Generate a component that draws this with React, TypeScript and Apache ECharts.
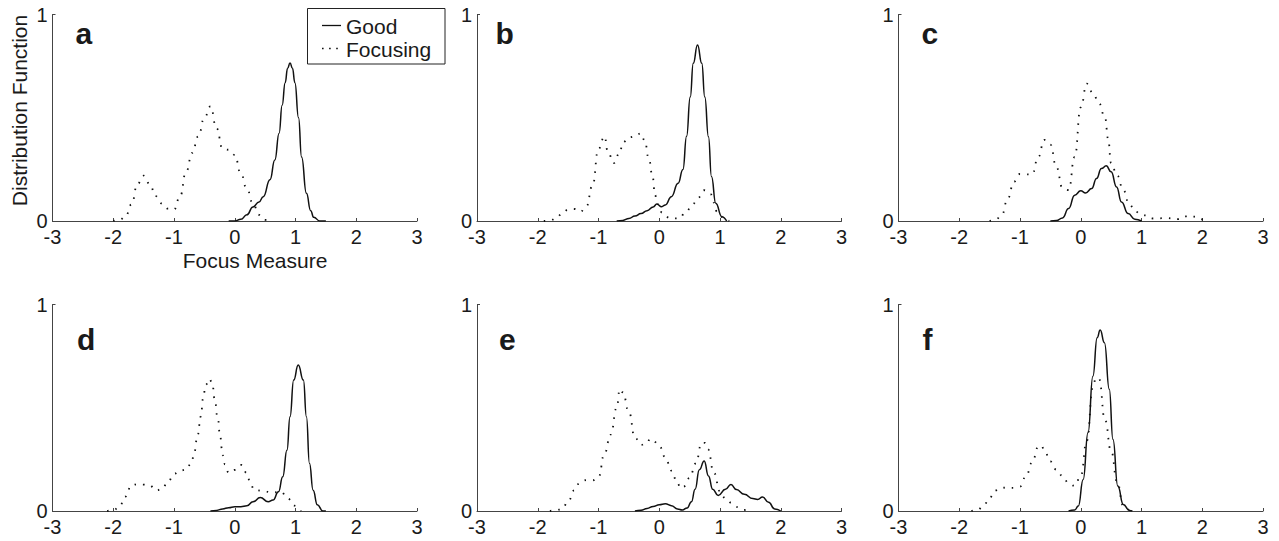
import React, { useEffect, useRef } from "react";
import * as echarts from "echarts";

const seriesNames = ["Good", "Focusing"];
const panelLetters = ["a", "b", "c", "d", "e", "f"];
const yAxisTitle = "Distribution Function";
const xAxisTitle = "Focus Measure";

const goodA: number[][] = [
  [-0.1, 0], [0, 0], [0.1, 0.008], [0.2, 0.03], [0.3, 0.068], [0.4, 0.092], [0.47, 0.118],
  [0.58, 0.2], [0.66, 0.295], [0.73, 0.425], [0.78, 0.56], [0.83, 0.67], [0.87, 0.74],
  [0.91, 0.765], [0.95, 0.74], [0.99, 0.67], [1.05, 0.5], [1.1, 0.31], [1.18, 0.134],
  [1.25, 0.05], [1.3, 0.018], [1.4, 0], [1.5, 0],
];
const focusA: number[][] = [
  [-2.0, 0], [-1.9, 0.005], [-1.8, 0.02], [-1.7, 0.08], [-1.6, 0.18], [-1.5, 0.22],
  [-1.4, 0.18], [-1.3, 0.12], [-1.2, 0.085], [-1.1, 0.06], [-1.0, 0.055], [-0.9, 0.12],
  [-0.8, 0.24], [-0.7, 0.33], [-0.6, 0.41], [-0.5, 0.5], [-0.4, 0.555], [-0.3, 0.45],
  [-0.2, 0.35], [-0.1, 0.345], [0.0, 0.32], [0.1, 0.23], [0.2, 0.155], [0.3, 0.085],
  [0.4, 0.03], [0.5, 0.005], [0.6, 0],
];
const goodB: number[][] = [
  [-0.7, 0], [-0.6, 0.003], [-0.5, 0.012], [-0.4, 0.024], [-0.3, 0.036], [-0.2, 0.05],
  [-0.1, 0.068], [-0.04, 0.082], [0.04, 0.069], [0.1, 0.078], [0.2, 0.118], [0.31, 0.183],
  [0.39, 0.25], [0.45, 0.41], [0.51, 0.6], [0.56, 0.764], [0.63, 0.852], [0.7, 0.764],
  [0.75, 0.6], [0.81, 0.408], [0.86, 0.215], [0.93, 0.086], [1.03, 0.021], [1.11, 0],
];
const focusB: number[][] = [
  [-1.9, 0], [-1.8, 0.002], [-1.7, 0.012], [-1.6, 0.035], [-1.5, 0.055], [-1.4, 0.058],
  [-1.3, 0.045], [-1.2, 0.07], [-1.1, 0.17], [-1.0, 0.35], [-0.9, 0.41], [-0.85, 0.34],
  [-0.75, 0.28], [-0.65, 0.33], [-0.6, 0.38], [-0.5, 0.405], [-0.4, 0.41], [-0.3, 0.425],
  [-0.24, 0.39], [-0.17, 0.3], [-0.11, 0.215], [-0.07, 0.126], [-0.03, 0.082], [0.05, 0.04],
  [0.18, 0.013], [0.33, 0.013], [0.44, 0.045], [0.55, 0.081], [0.64, 0.113], [0.74, 0.149],
  [0.85, 0.129], [0.9, 0.089], [0.95, 0.045], [1.08, 0.008], [1.15, 0],
];
const goodC: number[][] = [
  [-0.5, 0], [-0.4, 0.002], [-0.3, 0.015], [-0.2, 0.06], [-0.1, 0.125], [0.0, 0.146],
  [0.08, 0.136], [0.18, 0.157], [0.26, 0.206], [0.34, 0.254], [0.42, 0.267], [0.5, 0.238],
  [0.59, 0.165], [0.67, 0.092], [0.78, 0.036], [0.89, 0.009], [1.0, 0],
];
const focusC: number[][] = [
  [-1.5, 0], [-1.4, 0.006], [-1.3, 0.03], [-1.2, 0.11], [-1.1, 0.19], [-1.0, 0.228],
  [-0.9, 0.226], [-0.8, 0.225], [-0.7, 0.31], [-0.6, 0.393], [-0.5, 0.37], [-0.4, 0.26],
  [-0.3, 0.16], [-0.2, 0.15], [-0.1, 0.31], [0.0, 0.55], [0.1, 0.665], [0.2, 0.62],
  [0.3, 0.57], [0.4, 0.5], [0.45, 0.4], [0.5, 0.28], [0.6, 0.22], [0.7, 0.15],
  [0.8, 0.08], [0.9, 0.045], [1.0, 0.03], [1.2, 0.012], [1.4, 0.014], [1.6, 0.009],
  [1.8, 0.026], [1.9, 0.02], [2.0, 0.008], [2.1, 0],
];
const goodD: number[][] = [
  [-0.4, 0], [-0.3, 0.003], [-0.2, 0.01], [-0.1, 0.016], [0.0, 0.021], [0.1, 0.021],
  [0.2, 0.025], [0.3, 0.045], [0.42, 0.065], [0.55, 0.045], [0.63, 0.053], [0.72, 0.093],
  [0.79, 0.166], [0.86, 0.295], [0.91, 0.457], [0.97, 0.634], [1.045, 0.707], [1.13, 0.634],
  [1.18, 0.457], [1.23, 0.231], [1.29, 0.1], [1.36, 0.03], [1.45, 0], [1.5, 0],
];
const focusD: number[][] = [
  [-2.1, 0], [-2.0, 0.003], [-1.9, 0.02], [-1.8, 0.07], [-1.7, 0.125], [-1.6, 0.13],
  [-1.5, 0.128], [-1.4, 0.124], [-1.3, 0.1], [-1.2, 0.105], [-1.1, 0.14], [-1.0, 0.18],
  [-0.9, 0.195], [-0.8, 0.2], [-0.71, 0.234], [-0.67, 0.28], [-0.61, 0.368], [-0.56, 0.457],
  [-0.52, 0.546], [-0.48, 0.61], [-0.42, 0.64], [-0.37, 0.62], [-0.33, 0.541], [-0.28, 0.449],
  [-0.24, 0.36], [-0.2, 0.271], [-0.16, 0.226], [-0.1, 0.185], [0.0, 0.199], [0.11, 0.223],
  [0.2, 0.183], [0.25, 0.142], [0.32, 0.102], [0.47, 0.097], [0.61, 0.089], [0.76, 0.093],
  [0.87, 0.061], [0.98, 0.026], [1.09, 0],
];
const goodE: number[][] = [
  [-0.4, 0], [-0.3, 0.004], [-0.2, 0.012], [-0.1, 0.022], [0.0, 0.03], [0.1, 0.035],
  [0.2, 0.026], [0.3, 0.01], [0.38, 0.005], [0.46, 0.015], [0.53, 0.045], [0.59, 0.105],
  [0.66, 0.2], [0.74, 0.242], [0.81, 0.17], [0.88, 0.105], [0.97, 0.075], [1.09, 0.105],
  [1.18, 0.128], [1.27, 0.104], [1.4, 0.081], [1.54, 0.06], [1.62, 0.056], [1.7, 0.068],
  [1.8, 0.042], [1.9, 0.01], [2.0, 0],
];
const focusE: number[][] = [
  [-1.8, 0], [-1.7, 0.003], [-1.6, 0.01], [-1.5, 0.045], [-1.4, 0.1], [-1.3, 0.14],
  [-1.2, 0.15], [-1.1, 0.148], [-1.0, 0.165], [-0.9, 0.28], [-0.8, 0.37], [-0.7, 0.5],
  [-0.65, 0.59], [-0.6, 0.575], [-0.5, 0.48], [-0.4, 0.355], [-0.3, 0.32], [-0.2, 0.33],
  [-0.15, 0.35], [-0.1, 0.34], [0.0, 0.315], [0.1, 0.26], [0.2, 0.195], [0.3, 0.135],
  [0.35, 0.11], [0.4, 0.118], [0.5, 0.16], [0.6, 0.23], [0.7, 0.33], [0.75, 0.33],
  [0.8, 0.3], [0.9, 0.185], [1.0, 0.095], [1.1, 0.055], [1.2, 0.038], [1.3, 0.018],
  [1.4, 0.005], [1.5, 0],
];
const goodF: number[][] = [
  [-0.2, 0], [-0.1, 0.005], [-0.04, 0.024], [0.04, 0.153], [0.12, 0.38], [0.2, 0.653],
  [0.27, 0.839], [0.32, 0.876], [0.39, 0.815], [0.47, 0.589], [0.53, 0.347], [0.61, 0.121],
  [0.7, 0.032], [0.8, 0.003], [0.85, 0],
];
const focusF: number[][] = [
  [-1.8, 0], [-1.7, 0.005], [-1.6, 0.025], [-1.5, 0.065], [-1.4, 0.1], [-1.3, 0.113],
  [-1.2, 0.112], [-1.1, 0.112], [-1.0, 0.118], [-0.9, 0.17], [-0.8, 0.235], [-0.7, 0.31],
  [-0.65, 0.318], [-0.6, 0.295], [-0.5, 0.24], [-0.4, 0.2], [-0.3, 0.17], [-0.2, 0.135],
  [-0.1, 0.122], [0.0, 0.17], [0.1, 0.34], [0.2, 0.6], [0.25, 0.645], [0.3, 0.64],
  [0.4, 0.44], [0.5, 0.29], [0.6, 0.14], [0.7, 0.025], [0.8, 0],
];

const goodSets = [goodA, goodB, goodC, goodD, goodE, goodF];
const focusSets = [focusA, focusB, focusC, focusD, focusE, focusF];

const FONT = "'Liberation Sans', Arial, Helvetica, sans-serif";
const TXT = "#1a1a1a";
const AXIS = "#444";

const colLefts = [52.5, 477, 898.5];
const rowTops = [14.5, 304.5];
const gridW = 364.5;
const gridH = 206.5;
const letterPos = [
  [75.5, 33], [495.5, 33], [921.5, 33],
  [77, 339], [499, 339], [922.5, 339],
];

export default function App() {
  const ref = useRef<HTMLDivElement>(null);
  useEffect(() => {
    document.body.style.margin = "0";
    const chart = echarts.init(ref.current!, null, { renderer: "svg" });
    const grids: any[] = [];
    const xAxes: any[] = [];
    const yAxes: any[] = [];
    const series: any[] = [];
    for (let i = 0; i < 6; i++) {
      const r = Math.floor(i / 3);
      const c = i % 3;
      grids.push({ left: colLefts[c], top: rowTops[r], width: gridW, height: gridH, containLabel: false });
      xAxes.push({
        type: "value", gridIndex: i, min: -3, max: 3, interval: 1,
        axisLine: { show: true, onZero: false, lineStyle: { color: AXIS, width: 1 } },
        axisTick: { show: true, inside: true, length: 3, lineStyle: { color: AXIS } },
        axisLabel: { margin: 7, color: TXT, fontSize: 20, lineHeight: 18, fontFamily: FONT },
        splitLine: { show: false },
      });
      yAxes.push({
        type: "value", gridIndex: i, min: 0, max: 1, interval: 1,
        axisLine: { show: true, onZero: false, lineStyle: { color: AXIS, width: 1 } },
        axisTick: { show: true, inside: true, length: 3, lineStyle: { color: AXIS } },
        axisLabel: { margin: 5, color: TXT, fontSize: 20, lineHeight: 18, fontFamily: FONT },
        splitLine: { show: false },
      });
      series.push({
        name: seriesNames[1], type: "line", xAxisIndex: i, yAxisIndex: i,
        data: focusSets[i], showSymbol: false, smooth: 0.5, smoothMonotone: "x",
        lineStyle: { color: "#111", width: 1.8, type: [1.5, 7], cap: "butt" },
        z: 2,
      });
      series.push({
        name: seriesNames[0], type: "line", xAxisIndex: i, yAxisIndex: i,
        data: goodSets[i], showSymbol: false, smooth: 0.5, smoothMonotone: "x",
        lineStyle: { color: "#111", width: 1.5, type: "solid" },
        z: 3,
      });
    }
    const graphic: any[] = [];
    panelLetters.forEach((l, i) => {
      graphic.push({
        type: "text", x: letterPos[i][0], y: letterPos[i][1],
        style: { text: l, font: `bold 30px ${FONT}`, fill: "#1a1a1a", align: "left", verticalAlign: "middle" },
      });
    });
    graphic.push({
      type: "text", x: 19.5, y: 110.5, rotation: Math.PI / 2,
      style: { text: yAxisTitle, font: `21px ${FONT}`, fill: TXT, align: "center", verticalAlign: "middle" },
    });
    graphic.push({
      type: "text", x: 255, y: 260.5,
      style: { text: xAxisTitle, font: `21px ${FONT}`, lineHeight: 18, fill: TXT, align: "center", verticalAlign: "middle" },
    });
    graphic.push({
      type: "rect", shape: { x: 307.5, y: 8.5, width: 137.5, height: 55.5 }, z: 10,
      style: { fill: "#fff", stroke: "#222", lineWidth: 1 },
    });
    graphic.push({
      type: "line", shape: { x1: 322, y1: 25.5, x2: 341, y2: 25.5 }, z: 11,
      style: { stroke: "#111", lineWidth: 1.3 },
    });
    graphic.push({
      type: "line", shape: { x1: 322, y1: 48.5, x2: 342, y2: 48.5 }, z: 11,
      style: { stroke: "#111", lineWidth: 1.6, lineDash: [1.6, 5.5] },
    });
    graphic.push({
      type: "text", x: 346, y: 26.5, z: 11,
      style: { text: seriesNames[0], font: `21px ${FONT}`, fill: TXT, align: "left", verticalAlign: "middle" },
    });
    graphic.push({
      type: "text", x: 346, y: 49, z: 11,
      style: { text: seriesNames[1], font: `21px ${FONT}`, fill: TXT, align: "left", verticalAlign: "middle" },
    });

    chart.setOption({
      animation: false,
      backgroundColor: "#fff",
      grid: grids,
      xAxis: xAxes,
      yAxis: yAxes,
      series,
      graphic,
    });
    return () => chart.dispose();
  }, []);
  return <div ref={ref} style={{ width: 1279, height: 541 }} />;
}
